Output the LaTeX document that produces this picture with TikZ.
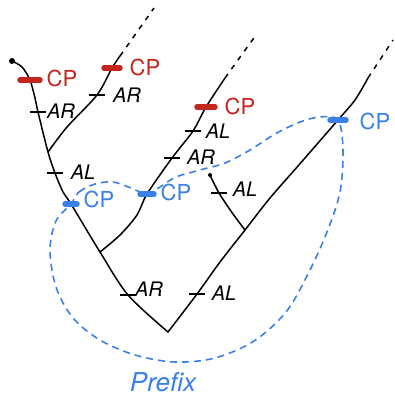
\documentclass[tikz,border=0pt]{standalone}
\usepackage{fontspec}
\setsansfont{TeX Gyre Heros}
\definecolor{cpred}{RGB}{196,38,30}
\definecolor{cpblue}{RGB}{58,128,230}
\begin{document}
\begin{tikzpicture}[x=1pt,y=-1pt,
  branch/.style={line width=1.5pt, line cap=round, line join=round},
  dashbranch/.style={line width=1.5pt, dash pattern=on 5pt off 6pt},
  tickmark/.style={line width=1.5pt},
  redbar/.style={line width=5.5pt, line cap=round, cpred},
  bluebar/.style={line width=5.5pt, line cap=round, cpblue},
  lab/.style={font=\sffamily\fontsize{20}{20}\selectfont\itshape, inner sep=0pt},
  redlab/.style={font=\sffamily\fontsize{22}{22}\selectfont, text=cpred, inner sep=0pt},
  bluelab/.style={font=\sffamily\fontsize{22}{22}\selectfont, text=cpblue, inner sep=0pt},
  prefixline/.style={cpblue, line width=1.6pt, dash pattern=on 7pt off 5pt}
]
\useasboundingbox (0,0) rectangle (395,397);

% ---- coordinates of the tree ----
\coordinate (lDot) at (12,61);
\coordinate (lA) at (22,67);
\coordinate (cpR1) at (30,80);
\coordinate (lB) at (35,98);
\coordinate (tAR1) at (38,112);
\coordinate (jL) at (48,152);
\coordinate (tAL1) at (55,173);
\coordinate (lC) at (63,192);
\coordinate (cpB1) at (71,204);
\coordinate (jM) at (100,252);
\coordinate (tAR4) at (128,295);
\coordinate (root) at (168,332);

\coordinate (uA) at (67,127);
\coordinate (tAR2) at (97,95);
\coordinate (cpR2) at (112,68);
\coordinate (uTop) at (120,56);
\coordinate (uEnd) at (154,8);

\coordinate (mA) at (120,235);
\coordinate (mB) at (137,215);
\coordinate (cpB2) at (147,194);
\coordinate (tAR3) at (172,158);
\coordinate (tAL3) at (193,131);
\coordinate (cpR3) at (206,107);
\coordinate (mTop) at (225,78);
\coordinate (mEnd) at (256,35);

\coordinate (tAL4) at (197,294);
\coordinate (rA) at (220,262);
\coordinate (jR) at (245,230);
\coordinate (rB) at (270,198);
\coordinate (rC) at (298,166);
\coordinate (cpB3) at (338,120);
\coordinate (rD) at (355,100);
\coordinate (rTop) at (368,78);
\coordinate (rEnd) at (393,40);

\coordinate (sA) at (233,214);
\coordinate (tAL5) at (219,193);
\coordinate (sDot) at (210,175);

% ---- prefix dashed outline ----
\draw[prefixline] plot[smooth cycle, tension=0.55] coordinates {
  (cpB1) (79,192) (95,184) (113,182) (131,188) (cpB2)
  (160,187) (176,177) (200,170) (225,163) (250,150) (275,134) (300,122) (320,117) (cpB3)
  (343,150) (340,192) (327,232) (308,274) (286,312) (254,341) (215,358) (175,362)
  (135,355) (100,340) (73,318) (56,287) (50,250) (56,221)};

% ---- tree branches ----
\draw[branch] plot[smooth, tension=0.5] coordinates {(lDot) (lA) (cpR1) (lB) (tAR1) (jL) (tAL1) (lC) (cpB1) (jM) (tAR4) (root)};
\draw[branch] plot[smooth, tension=0.5] coordinates {(jL) (uA) (tAR2) (cpR2) (uTop)};
\draw[dashbranch] (uTop) -- (uEnd);
\draw[branch] plot[smooth, tension=0.5] coordinates {(jM) (mA) (mB) (cpB2) (tAR3) (tAL3) (cpR3) (mTop)};
\draw[dashbranch] (mTop) -- (mEnd);
\draw[branch] plot[smooth, tension=0.5] coordinates {(root) (tAL4) (rA) (jR) (rB) (rC) (cpB3) (rD) (rTop)};
\draw[dashbranch] (rTop) -- (rEnd);
\draw[branch] plot[smooth, tension=0.5] coordinates {(jR) (sA) (tAL5) (sDot)};
\fill (lDot) circle (3pt);
\fill (sDot) circle (2pt);

% ---- ticks ----
\foreach \t in {tAR1,tAL1,tAR2,tAR3,tAL3,tAL5,tAR4,tAL4}
  \draw[tickmark] ([xshift=-8pt]\t) -- ([xshift=8pt]\t);

% ---- CP bars ----
\draw[redbar] ([xshift=-10pt]cpR1) -- ([xshift=10pt]cpR1);
\draw[redbar] ([xshift=-8pt]cpR2) -- ([xshift=8pt]cpR2);
\draw[redbar] ([xshift=-9pt]cpR3) -- ([xshift=9pt]cpR3);
\draw[bluebar] ([xshift=-6pt]cpB1) -- ([xshift=6pt]cpB1);
\draw[bluebar] ([xshift=-7pt]cpB2) -- ([xshift=7pt]cpB2);
\draw[bluebar] ([xshift=-8pt]cpB3) -- ([xshift=8pt]cpB3);

% ---- labels ----
\node[redlab] (lcpR1) at (62,78) {CP};
\node[redlab] (lcpR2) at (145,67) {CP};
\node[redlab] (lcpR3) at (240,106) {CP};
\node[bluelab] (lcpB1) at (99,199) {CP};
\node[bluelab] (lcpB2) at (176,192) {CP};
\node[bluelab] (lcpB3) at (375,121) {CP};
\node[lab] (lAR1) at (61,111) {AR};
\node[lab] (lAR2) at (127,95) {AR};
\node[lab] (lAL1) at (83,172) {AL};
\node[lab] (lAL3) at (218,131) {AL};
\node[lab] (lAR3) at (201,157) {AR};
\node[lab] (lAL5) at (245,189) {AL};
\node[lab] (lAR4) at (149,289) {AR};
\node[lab] (lAL4) at (224,293) {AL};
\node[font=\sffamily\fontsize{26}{26}\selectfont\itshape, text=cpblue, inner sep=0pt] (lprefix) at (163,382) {Prefix};
\end{tikzpicture}
\end{document}
